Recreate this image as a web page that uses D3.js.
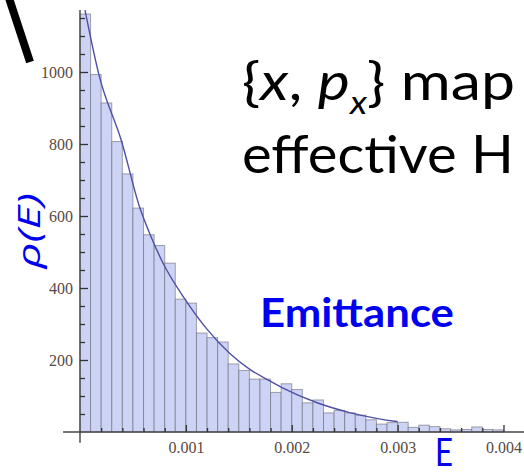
<!DOCTYPE html>
<html>
<head>
<meta charset="utf-8">
<script src="https://cdn.jsdelivr.net/npm/d3@7"></script>
<style>
  html, body { margin: 0; padding: 0; background: #fff; }
  svg { display: block; }
</style>
</head>
<body>
<svg id="chart" width="524" height="476"></svg>
<script>
// Histogram of emittance E (bin width 1e-4), counts per bin
const binWidth = 0.0001;
const binCounts = [
  1161, 993, 914, 807, 717, 622, 548, 518, 469, 369,
  358, 275, 262, 250, 189, 171, 147, 147, 110, 134,
  118, 81, 89, 53, 60, 53, 47, 34, 22, 26,
  27, 13, 19, 15, 9, 6, 7, 14, 7, 6
];

// Fitted density curve, sampled points (E, rho)
const curveE   = [0.000047, 0.000179, 0.000393, 0.000566, 0.000676, 0.000786, 0.000991,
                  0.001195, 0.001415, 0.001604, 0.001792, 0.001918, 0.002233, 0.002547,
                  0.002799, 0.002972, 0.003000];
const curveRho = [1172, 992, 807, 622, 539, 468, 369,
                  287, 218, 174, 142, 122, 82, 54,
                  38, 30, 29];

// Axis ticks
const xTicks = [0.001, 0.002, 0.003, 0.004];
const xTickLabels = ["0.001", "0.002", "0.003", "0.004"];
const yTicks = [200, 400, 600, 800, 1000];
const yTickLabels = ["200", "400", "600", "800", "1000"];
const xMinorTicks = [0.0002, 0.0004, 0.0006, 0.0008, 0.0012, 0.0014, 0.0016, 0.0018,
                     0.0022, 0.0024, 0.0026, 0.0028, 0.0032, 0.0034, 0.0036, 0.0038];
const yMinorTicks = [50, 100, 150, 250, 300, 350, 450, 500, 550, 650, 700, 750,
                     850, 900, 950, 1050, 1100, 1150];

// Visible extent of the axis lines (data units)
const xAxisExtent = [-0.00016, 0.0042];
const yAxisExtent = [-30, 1172];

const svg = d3.select("#chart");

const x = d3.scaleLinear().domain([0, 0.004]).range([80, 503.5]);
const y = d3.scaleLinear().domain([0, 1000]).range([432, 72]);

const tickColor = "#333";
const labelColor = "#574a44";

// Bars
svg.append("g")
  .selectAll("rect")
  .data(binCounts)
  .join("rect")
  .attr("x", (d, i) => x(i * binWidth))
  .attr("y", d => y(d))
  .attr("width", x(binWidth) - x(0))
  .attr("height", d => y(0) - y(d))
  .attr("fill", "#cdd3f4")
  .attr("stroke", "rgba(95,95,110,0.55)")
  .attr("stroke-width", 1);

// Fitted curve
svg.append("path")
  .datum(curveE.map((e, i) => [e, curveRho[i]]))
  .attr("fill", "none")
  .attr("stroke", "#4f4fa6")
  .attr("stroke-width", 1.4)
  .attr("d", d3.line().x(d => x(d[0])).y(d => y(d[1])).curve(d3.curveMonotoneX));

// Axis lines
svg.append("line")
  .attr("x1", x(xAxisExtent[0])).attr("x2", x(xAxisExtent[1]))
  .attr("y1", y(0)).attr("y2", y(0))
  .attr("stroke", "#444").attr("stroke-width", 1.4);
svg.append("line")
  .attr("x1", x(0)).attr("x2", x(0))
  .attr("y1", y(yAxisExtent[0])).attr("y2", y(yAxisExtent[1]))
  .attr("stroke", "#444").attr("stroke-width", 1.4);

// Minor ticks (pointing into the plot)
const xMinor = d3.axisBottom(x).tickValues(xMinorTicks).tickSize(-4).tickFormat("");
const yMinor = d3.axisLeft(y).tickValues(yMinorTicks).tickSize(-5).tickFormat("");
// Major ticks with labels
const xMajor = d3.axisBottom(x).tickValues(xTicks).tickSize(-7).tickPadding(10)
  .tickFormat((d, i) => xTickLabels[i]);
const yMajor = d3.axisLeft(y).tickValues(yTicks).tickSize(-8).tickPadding(7)
  .tickFormat((d, i) => yTickLabels[i]);

function styleAxis(g) {
  g.select(".domain").remove();
  g.selectAll(".tick line").attr("stroke", tickColor).attr("stroke-width", 1.3);
  g.selectAll(".tick text")
    .attr("fill", labelColor)
    .style("font-family", "'Liberation Serif', 'DejaVu Serif', serif")
    .style("font-size", "16px");
}

svg.append("g").attr("transform", `translate(0,${y(0)})`).call(xMinor).call(styleAxis);
svg.append("g").attr("transform", `translate(${x(0)},0)`).call(yMinor).call(styleAxis);
svg.append("g").attr("transform", `translate(0,${y(0)})`).call(xMajor).call(styleAxis);
svg.append("g").attr("transform", `translate(${x(0)},0)`).call(yMajor).call(styleAxis);

// Fit a text element horizontally into [left, left+width] by scaling its x axis
function fitWidth(text, left, width, baseline) {
  const bb = text.node().getBBox();
  const sx = width / bb.width;
  text.attr("transform", `translate(${left},${baseline}) scale(${sx},1) translate(${-bb.x},0)`);
}

const sans = "Lato, 'Open Sans', 'Noto Sans', sans-serif";

// Axis title: rho(E)
const rho = svg.append("text")
  .attr("fill", "#0000f0")
  .style("font-family", "'Open Sans', 'Noto Sans', sans-serif")
  .style("font-style", "italic")
  .style("font-size", "31px")
  .text("ρ(E)");
{
  const bb = rho.node().getBBox();
  const sx = 77 / bb.width;
  rho.attr("transform", `translate(40,270) rotate(-90) scale(${sx},1) translate(${-bb.x},0)`);
}

// Axis title: E
const eLabel = svg.append("text")
  .attr("fill", "#0000f0")
  .style("font-family", sans)
  .style("font-size", "38px")
  .text("E");
fitWidth(eLabel, 435, 18, 466);

// Title
const line1 = svg.append("text")
  .attr("fill", "#000")
  .style("font-family", sans)
  .style("font-size", "53px");
line1.append("tspan").text("{");
line1.append("tspan").style("font-style", "italic").text("x");
line1.append("tspan").text(", ");
line1.append("tspan").style("font-style", "italic").text("p");
line1.append("tspan").style("font-style", "italic").style("font-size", "32px")
  .attr("dy", 14).text("x");
line1.append("tspan").attr("dy", -14).text("}");
line1.append("tspan").text(" map");
fitWidth(line1, 242, 273, 100);

const line2 = svg.append("text")
  .attr("fill", "#000")
  .style("font-family", sans)
  .style("font-size", "53px")
  .text("effective H");
fitWidth(line2, 242, 272, 173);

// Annotation label
const emit = svg.append("text")
  .attr("fill", "#0000f0")
  .style("font-family", sans)
  .style("font-weight", "bold")
  .style("font-size", "40px")
  .text("Emittance");
fitWidth(emit, 260, 194, 327);

// Pointer stroke in the top-left corner
svg.append("line")
  .attr("x1", 7).attr("y1", -8)
  .attr("x2", 30).attr("y2", 62)
  .attr("stroke", "#000")
  .attr("stroke-width", 8);
</script>
</body>
</html>
